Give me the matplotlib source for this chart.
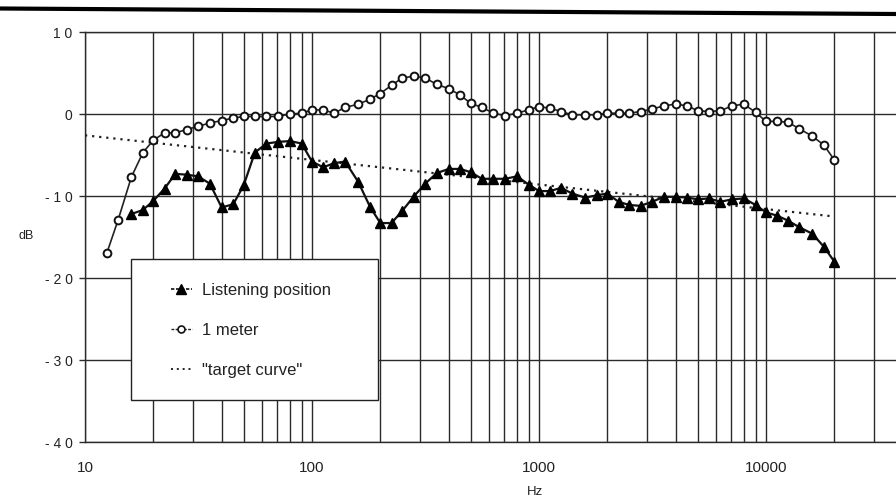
import matplotlib
matplotlib.use("Agg")
import matplotlib.pyplot as plt
from matplotlib.lines import Line2D
from matplotlib.patches import Rectangle
from matplotlib.ticker import FixedLocator, NullFormatter, LogLocator
import math

plt.rcParams['font.family'] = ['Liberation Sans', 'DejaVu Sans']

freq_1m = [12.5, 14, 16, 18, 20, 22.4, 25, 28, 31.5, 35.5, 40, 45, 50, 56, 63, 71, 80, 90,
           100, 112, 125, 140, 160, 180, 200, 224, 250, 280, 315, 355, 400, 450, 500, 560, 630,
           710, 800, 900, 1000, 1120, 1250, 1400, 1600, 1800, 2000, 2240, 2500, 2800, 3150,
           3550, 4000, 4500, 5000, 5600, 6300, 7100, 8000, 9000, 10000, 11200, 12500, 14000,
           16000, 18000, 20000]
db_1m = [-16.9, -12.9, -7.7, -4.7, -3.2, -2.3, -2.3, -1.9, -1.5, -1.1, -0.8, -0.5, -0.3, -0.3,
         -0.3, -0.3, 0.0, 0.1, 0.5, 0.5, 0.1, 0.8, 1.2, 1.8, 2.5, 3.5, 4.4, 4.6, 4.4, 3.6, 3.1,
         2.3, 1.3, 0.8, 0.1, -0.2, 0.1, 0.5, 0.9, 0.7, 0.3, -0.1, -0.1, -0.1, 0.1, 0.1, 0.1,
         0.3, 0.6, 1.0, 1.2, 1.0, 0.4, 0.3, 0.4, 1.0, 1.2, 0.2, -0.9, -0.9, -1.0, -1.8, -2.7,
         -3.8, -5.6]

freq_lp = [16, 18, 20, 22.4, 25, 28, 31.5, 35.5, 40, 45, 50, 56, 63, 71, 80, 90,
           100, 112, 125, 140, 160, 180, 200, 224, 250, 280, 315, 355, 400, 450, 500, 560, 630,
           710, 800, 900, 1000, 1120, 1250, 1400, 1600, 1800, 2000, 2240, 2500, 2800, 3150,
           3550, 4000, 4500, 5000, 5600, 6300, 7100, 8000, 9000, 10000, 11200, 12500, 14000,
           16000, 18000, 20000]
db_lp = [-12.2, -11.7, -10.6, -9.1, -7.3, -7.4, -7.6, -8.5, -11.4, -11.0, -8.7, -4.7, -3.6,
         -3.4, -3.3, -3.6, -5.8, -6.5, -6.0, -5.8, -8.3, -11.3, -13.3, -13.3, -11.8, -10.1,
         -8.5, -7.2, -6.7, -6.7, -7.1, -7.9, -7.9, -7.9, -7.6, -8.6, -9.4, -9.4, -9.0, -9.7,
         -10.2, -9.9, -9.7, -10.7, -11.1, -11.2, -10.7, -10.1, -10.1, -10.2, -10.4, -10.3,
         -10.7, -10.4, -10.3, -11.1, -12.0, -12.4, -13.0, -13.8, -14.6, -16.2, -18.0]

freq_target = [10, 20000]
db_target = [-2.6, -12.5]

x_ticks = [10, 100, 1000, 10000]
x_ticklabels = ["10", "100", "1000", "10000"]
y_ticks = [10, 0, -10, -20, -30, -40]
y_ticklabels = ["1 0", "0", "- 1 0", "- 2 0", "- 3 0", "- 4 0"]

W, H = 896, 500
fig = plt.figure(figsize=(W / 100, H / 100), dpi=100)
ax_left, ax_top, ax_bottom = 85, 32, 442
decade = 227.0
xmax = 40000
ax_w = decade * (math.log10(xmax) - 1)
ax = fig.add_axes([ax_left / W, (H - ax_bottom) / H, ax_w / W, (ax_bottom - ax_top) / H])

ax.set_xscale('log')
ax.set_xlim(10, xmax)
ax.set_ylim(-40, 10)

gc = '#2b2b2b'
ax.xaxis.set_major_locator(FixedLocator(x_ticks))
ax.xaxis.set_minor_locator(LogLocator(base=10, subs=range(2, 10), numticks=20))
ax.xaxis.set_minor_formatter(NullFormatter())
ax.set_xticklabels(x_ticklabels)
ax.set_yticks(y_ticks)
ax.set_yticklabels(y_ticklabels)
ax.grid(True, which='both', axis='x', color=gc, linewidth=1.0)
ax.grid(True, which='major', axis='y', color=gc, linewidth=1.0)
ax.set_axisbelow(True)
ax.tick_params(axis='x', which='both', length=0, pad=14, labelsize=11, colors='#222222')
ax.tick_params(axis='y', length=4, width=1.0, color=gc, pad=5, labelsize=10, labelcolor='#222222')
for s in ['left', 'bottom', 'top']:
    ax.spines[s].set_color(gc)
    ax.spines[s].set_linewidth(1.0)
ax.spines['right'].set_visible(False)

ax.plot(freq_target, db_target, color='#222222', linestyle=(0, (1, 2.2)), linewidth=1.6,
        zorder=3, label='"target curve"')
ax.plot(freq_1m, db_1m, color='#222222', linewidth=1.2, marker='o', markersize=5.6,
        markerfacecolor='white', markeredgecolor='#111111', markeredgewidth=1.4, zorder=4,
        label='1 meter')
ax.plot(freq_lp, db_lp, color='#111111', linewidth=1.6, marker='^', markersize=7.5,
        markerfacecolor='black', markeredgecolor='black', zorder=5,
        label='Listening position')


def px2ax(xp, yp):
    return ((xp - ax_left) / ax_w, (ax_bottom - yp) / (ax_bottom - ax_top))


x0, y0 = px2ax(131, 400)
x1, y1 = px2ax(378, 259)
rect = Rectangle((x0, y0), x1 - x0, y1 - y0, transform=ax.transAxes, facecolor='white',
                 edgecolor='#222222', linewidth=1.0, zorder=8, clip_on=False)
ax.add_patch(rect)

h_lp = Line2D([], [], color='#111111', linewidth=1.2, linestyle=(0, (2, 1)), marker='^',
              markersize=7, markerfacecolor='black', markeredgecolor='black')
h_1m = Line2D([], [], color='#222222', linewidth=1.0, linestyle=(0, (2, 1)), marker='o',
              markersize=5, markerfacecolor='white', markeredgecolor='#111111', markeredgewidth=1.2)
h_t = Line2D([], [], color='#222222', linewidth=1.4, linestyle=(0, (1, 2)))
lx, ly = px2ax(171, 283)
leg = ax.legend([h_lp, h_1m, h_t], ['Listening position', '1 meter', '"target curve"'],
                loc='upper left', bbox_to_anchor=(lx, ly), frameon=False, borderpad=0,
                borderaxespad=0, handlelength=1.25, handletextpad=0.6, labelspacing=1.5,
                prop={'size': 12}, labelcolor='#222222')
leg.set_zorder(9)

fig.text(18 / W, 1 - 236 / H, 'dB', fontsize=9, va='center', ha='left', color='#222222')
fig.text(535 / W, 1 - 492 / H, 'Hz', fontsize=9.5, va='center', ha='center', color='#222222')

fig.add_artist(Line2D([0, 1], [1 - 8.5 / H, 1 - 14 / H], transform=fig.transFigure,
                      color='black', linewidth=3))

fig.savefig('out.png', dpi=100, facecolor='white')
